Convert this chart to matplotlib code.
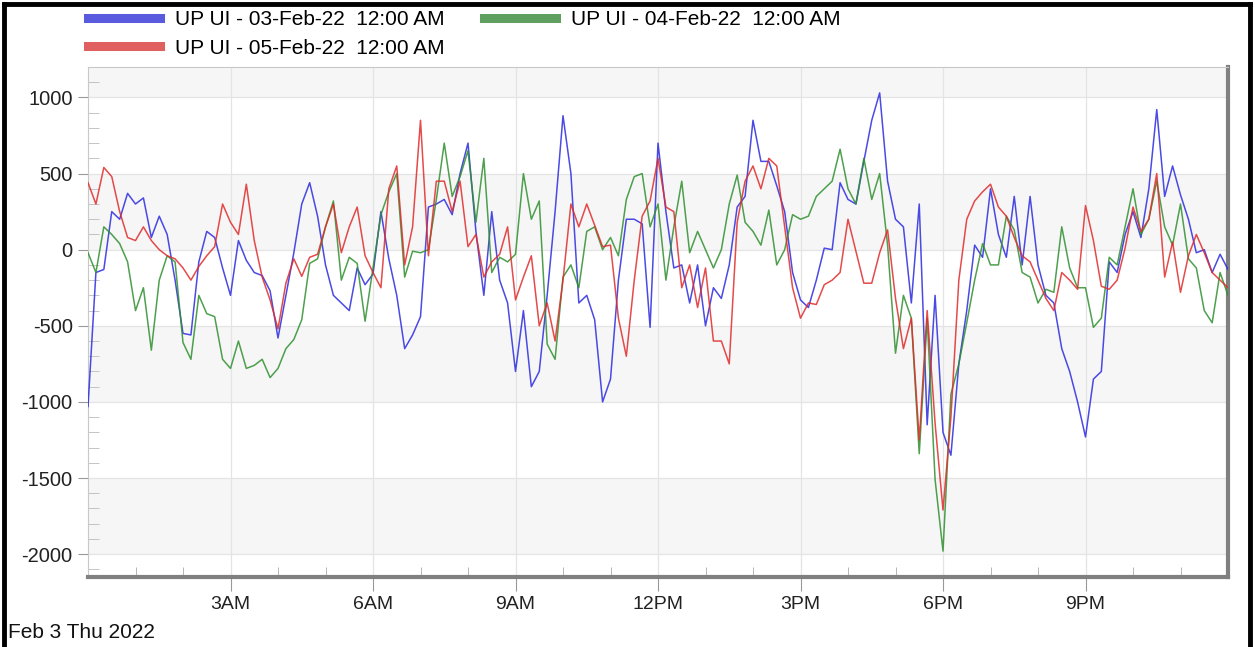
import matplotlib
matplotlib.use("Agg")
import matplotlib.pyplot as plt
import matplotlib.dates as mdates
from matplotlib.lines import Line2D
from matplotlib.ticker import MultipleLocator, FuncFormatter
import pandas as pd

plt.rcParams['font.family'] = ['Liberation Sans', 'DejaVu Sans']
plt.rcParams['axes.unicode_minus'] = False

# 10-minute readings, 03-Feb 00:00 to 04-Feb 00:00
start = "2022-02-03 00:00"
step = "10min"

ui_03feb = [-1030, -150, -130, 250, 200, 370, 300, 340, 80, 220, 100, -200, -550, -560, -80, 120, 80, -120, -300, 60, -70,
            -150, -170, -270, -580, -300, -20, 300, 440, 220, -100, -300, -350, -400, -120, -230, -160, 250, -60, -300, -650, -560,
            -440, 280, 300, 330, 230, 500, 700, 120, -300, 250, -200, -350, -800, -400, -900, -800, -300, 250, 880, 500, -350,
            -300, -460, -1000, -850, -200, 200, 200, 170, -510, 700, 250, -120, -100, -350, -100, -500, -250, -320, -100, 280, 350,
            850, 580, 580, 420, 250, -150, -330, -380, -200, 10, 0, 440, 330, 300, 580, 850, 1030, 450, 200, 150,
            -350, 300, -1150, -300, -1200, -1350, -750, -400, 30, -50, 400, 100, -50, 350, -100, 350, -100, -300, -350, -650, -800,
            -1000, -1230, -850, -800, -80, -150, 100, 250, 80, 400, 920, 350, 550, 360, 200, -20, 0, -150, -30, -130]

ui_04feb = [-20, -150, 150, 100, 40, -80, -400, -250, -660, -200, -40, -80, -610, -720, -300, -420, -440, -720, -780, -600, -780,
            -760, -720, -840, -780, -650, -590, -460, -90, -60, 150, 320, -200, -50, -90, -470, -120, 230, 380, 500, -180, -10,
            -20, 0, 330, 700, 350, 480, 650, 180, 600, -150, -50, -80, -30, 500, 200, 320, -620, -720, -180, -100, -250,
            120, 150, 0, 80, -40, 330, 480, 500, 150, 300, -200, 150, 450, -20, 120, 0, -120, 0, 300, 490, 180,
            120, 30, 260, -100, 0, 230, 200, 220, 350, 400, 450, 660, 400, 300, 600, 330, 500, 30, -680, -300,
            -450, -1340, -450, -1510, -1980, -950, -750, -480, -200, 40, -100, -100, 220, 130, -150, -180, -350, -260, -280, 150, -120,
            -250, -250, -510, -450, -50, -100, 150, 400, 100, 200, 450, 150, 30, 300, -60, -120, -400, -480, -150, -300]

ui_05feb = [440, 300, 540, 480, 250, 80, 60, 150, 60, 0, -40, -60, -120, -200, -110, -40, 20, 300, 180, 100, 430,
            60, -180, -330, -520, -220, -60, -175, -50, -30, 150, 300, -20, 150, 280, -40, -150, -250, 400, 550, -100, 150,
            850, -40, 450, 450, 250, 450, 20, 100, -180, -80, -30, 150, -330, -180, -40, -500, -350, -600, -200, 300, 150,
            300, 160, 20, 30, -450, -700, -200, 220, 320, 600, 280, 250, -250, -100, -380, -120, -600, -600, -750, 180, 450,
            550, 400, 600, 550, 150, -250, -450, -350, -360, -230, -200, -150, 200, -10, -220, -220, -20, 130, -320, -650,
            -450, -1250, -400, -1140, -1710, -1100, -200, 200, 320, 380, 430, 280, 220, 80, -40, -80, -200, -320, -400, -150, -200,
            -260, 290, 60, -240, -260, -200, 10, 280, 120, 200, 500, -180, 50, -280, -40, 100, -20, -150, -200, -250]

labels = ["UP UI - 03-Feb-22  12:00 AM", "UP UI - 04-Feb-22  12:00 AM", "UP UI - 05-Feb-22  12:00 AM"]
line_colors = ["#2b2be0", "#2f8f2f", "#e02b2b"]
legend_colors = ["#5a5ade", "#5f9f5f", "#e06060"]

times = pd.date_range(start, periods=len(ui_03feb), freq=step)

fig = plt.figure(figsize=(12.55, 6.47), dpi=100)
ax = fig.add_axes([88 / 1255, 70 / 647, (1228 - 88) / 1255, (580 - 70) / 647])

# alternating bands
for lo, hi in [(1000, 1300), (0, 500), (-1000, -500), (-2000, -1500)]:
    ax.axhspan(lo, hi, color="#f6f6f6", zorder=0, lw=0)

series = [ui_03feb, ui_04feb, ui_05feb]
for vals, c in zip(series, line_colors):
    ax.plot(times, vals, color=c, lw=1.1, alpha=0.85, zorder=3)

ax.set_xlim(pd.Timestamp("2022-02-03 00:00"), pd.Timestamp("2022-02-04 00:00"))
ax.set_ylim(-2150, 1200)

ax.xaxis.set_major_locator(mdates.HourLocator(byhour=range(3, 24, 3)))
ax.xaxis.set_minor_locator(mdates.HourLocator())
ax.xaxis.set_major_formatter(FuncFormatter(
    lambda x, pos: mdates.num2date(x).strftime("%I%p").lstrip("0")))
ax.yaxis.set_major_locator(MultipleLocator(500))
ax.yaxis.set_minor_locator(MultipleLocator(100))

ax.grid(True, which="major", axis="both", color="#e4e4e4", lw=0.9, zorder=1)
ax.set_axisbelow(True)

ax.tick_params(axis="x", which="major", direction="out", length=10, color="#999999",
               labelsize=14, pad=4, labelcolor="#222222")
ax.tick_params(axis="x", which="minor", direction="in", length=7, color="#aaaaaa")
ax.tick_params(axis="y", which="major", direction="out", length=7, color="#999999",
               labelsize=14.5, pad=4, labelcolor="#222222")
ax.tick_params(axis="y", which="minor", direction="in", length=8, color="#bbbbbb")

for s in ["top", "left"]:
    ax.spines[s].set_color("#c8c8c8")
    ax.spines[s].set_linewidth(0.8)
for s in ["bottom", "right"]:
    ax.spines[s].set_color("#808080")
    ax.spines[s].set_linewidth(3)

handles = [Line2D([], [], color=legend_colors[i], lw=6.5) for i in (0, 2, 1)]
fig.legend(handles, [labels[i] for i in (0, 2, 1)], loc="upper left",
           bbox_to_anchor=(88 / 1255, 1 - 10 / 647), ncol=2, frameon=False,
           fontsize=15, handlelength=3.45, handletextpad=0.72, columnspacing=1.9,
           labelspacing=0.46, borderpad=0, borderaxespad=0)

fig.text(8 / 1255, 1 - 632 / 647, "Feb 3 Thu 2022", fontsize=15, va="center", ha="left", color="#111111")

# outer black frame
for xs, ys in [([4 / 1255, 4 / 1255], [0, 1 - 4 / 647]),
               ([4 / 1255, 1 - 5 / 1255], [1 - 4 / 647, 1 - 4 / 647]),
               ([1 - 5 / 1255, 1 - 5 / 1255], [0, 1 - 4 / 647])]:
    fig.add_artist(Line2D(xs, ys, transform=fig.transFigure, color="black", lw=3.5))

fig.savefig("out.png", dpi=100, facecolor="white")
